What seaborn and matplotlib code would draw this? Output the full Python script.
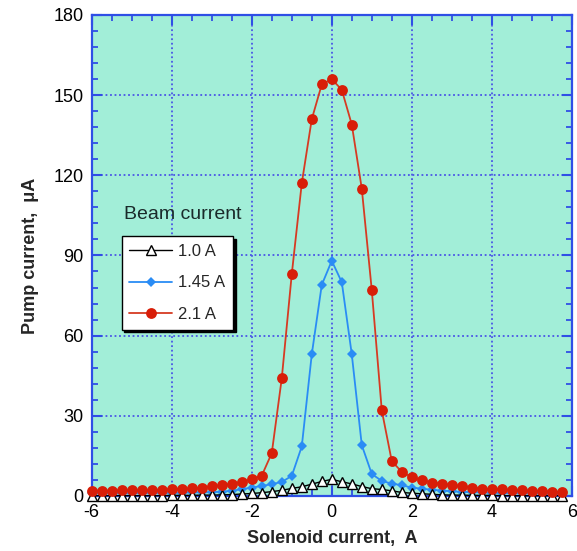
import matplotlib
matplotlib.use('Agg')
import matplotlib.pyplot as plt
from matplotlib.ticker import MultipleLocator
import seaborn as sns

# solenoid current, A
solenoid = [-6.0, -5.75, -5.5, -5.25, -5.0, -4.75, -4.5, -4.25, -4.0, -3.75, -3.5, -3.25,
            -3.0, -2.75, -2.5, -2.25, -2.0, -1.75, -1.5, -1.25, -1.0, -0.75, -0.5, -0.25,
            0.0, 0.25, 0.5, 0.75, 1.0, 1.25, 1.5, 1.75, 2.0, 2.25, 2.5, 2.75,
            3.0, 3.25, 3.5, 3.75, 4.0, 4.25, 4.5, 4.75, 5.0, 5.25, 5.5, 5.75]

# pump current, uA, for each beam current
pump_1_0 = [0.1, 0.1, 0.1, 0.1, 0.1, 0.1, 0.1, 0.1, 0.2, 0.2, 0.2, 0.3,
            0.3, 0.4, 0.5, 0.7, 0.9, 1.2, 1.6, 2.1, 2.8, 3.4, 4.4, 5.4,
            6.2, 5.3, 4.5, 3.5, 2.7, 2.4, 1.9, 1.3, 1.0, 0.8, 0.6, 0.4,
            0.3, 0.3, 0.2, 0.2, 0.2, 0.1, 0.1, 0.1, 0.1, 0.1, 0.1, 0.1]
pump_1_45 = [1.0, 1.0, 1.0, 1.0, 1.0, 1.1, 1.1, 1.1, 1.2, 1.2, 1.3, 1.3,
             1.4, 1.6, 1.9, 2.5, 3.1, 3.7, 4.4, 5.2, 7.5, 18.5, 53.0, 79.0,
             88.0, 80.0, 53.0, 19.0, 8.2, 5.6, 4.6, 4.0, 3.1, 2.7, 2.3, 2.0,
             1.7, 1.5, 1.4, 1.3, 1.2, 1.1, 1.0, 1.0, 0.9, 0.9, 0.8, 0.8]
pump_2_1 = [2.0, 2.0, 2.0, 2.1, 2.1, 2.1, 2.2, 2.3, 2.6, 2.7, 2.8, 3.1,
            3.6, 4.0, 4.6, 5.2, 6.2, 7.6, 16.0, 44.0, 83.0, 117.0, 141.0, 154.0,
            156.0, 152.0, 139.0, 115.0, 77.0, 32.0, 13.0, 9.0, 7.0, 5.9, 5.0, 4.6,
            4.1, 3.7, 3.1, 2.7, 2.5, 2.5, 2.1, 2.1, 1.9, 1.9, 1.6, 1.5]

labels = ['1.0 A', '1.45 A', '2.1 A']

sns.set_style('ticks')
plt.rcParams['font.family'] = ['Liberation Sans', 'DejaVu Sans']
plt.rcParams['axes.unicode_minus'] = False

frame_blue = '#2f4fe6'
fig = plt.figure(figsize=(5.77, 5.51), dpi=100)
ax = fig.add_axes([0.159, 0.1, 0.832, 0.8728])
ax.set_facecolor('#a2eed8')

sns.lineplot(x=solenoid, y=pump_1_45, ax=ax, color='#2a8cf5', lw=1.3,
             marker='D', markersize=5, markeredgewidth=0, label=labels[1],
             clip_on=False, zorder=3)
sns.lineplot(x=solenoid, y=pump_1_0, ax=ax, color='black', lw=1.0,
             marker='^', markersize=6.5, markerfacecolor='white',
             markeredgecolor='black', markeredgewidth=1.0, label=labels[0],
             clip_on=False, zorder=4)
sns.lineplot(x=solenoid, y=pump_2_1, ax=ax, color='#d63a22', lw=1.3,
             marker='o', markersize=7.8, markerfacecolor='#d81e08',
             markeredgewidth=0, label=labels[2], clip_on=False, zorder=5)

ax.set_xlim(-6, 6)
ax.set_ylim(0, 180)
ax.xaxis.set_major_locator(MultipleLocator(2))
ax.xaxis.set_minor_locator(MultipleLocator(0.5))
ax.yaxis.set_major_locator(MultipleLocator(30))
ax.yaxis.set_minor_locator(MultipleLocator(6))
ax.tick_params(which='both', direction='in', top=True, right=True,
               color=frame_blue, labelsize=13, labelcolor='black')
ax.tick_params(which='major', length=7, width=1.5, pad=6)
ax.tick_params(which='minor', length=4, width=1.3)
for s in ax.spines.values():
    s.set_color(frame_blue)
    s.set_linewidth(1.6)
ax.grid(True, which='major', color='#4a55e6', linestyle=(0, (1, 1.5)), linewidth=1.3)

ax.set_xlabel('Solenoid current,  A', fontsize=13, fontweight='bold', labelpad=6)
ax.set_ylabel('Pump current,  μA', fontsize=13, fontweight='bold', labelpad=10)

handles, labs = ax.get_legend_handles_labels()
order = [labs.index(l) for l in labels]
leg = ax.legend([handles[i] for i in order], [labs[i] for i in order],
                loc='upper left', bbox_to_anchor=(0.062, 0.54), borderaxespad=0,
                fontsize=12, frameon=True, fancybox=False,
                shadow={'color': 'black', 'alpha': 1},
                edgecolor='black', facecolor='white', framealpha=1,
                handlelength=2.6, labelspacing=1.0, borderpad=0.45, handletextpad=0.35)
leg.get_frame().set_linewidth(1.0)
leg.set_zorder(10)
ax.text(0.19, 0.585, 'Beam current', transform=ax.transAxes, fontsize=14,
        ha='center', va='center', color='#1a2a2a')

fig.savefig('out.png', dpi=100)
